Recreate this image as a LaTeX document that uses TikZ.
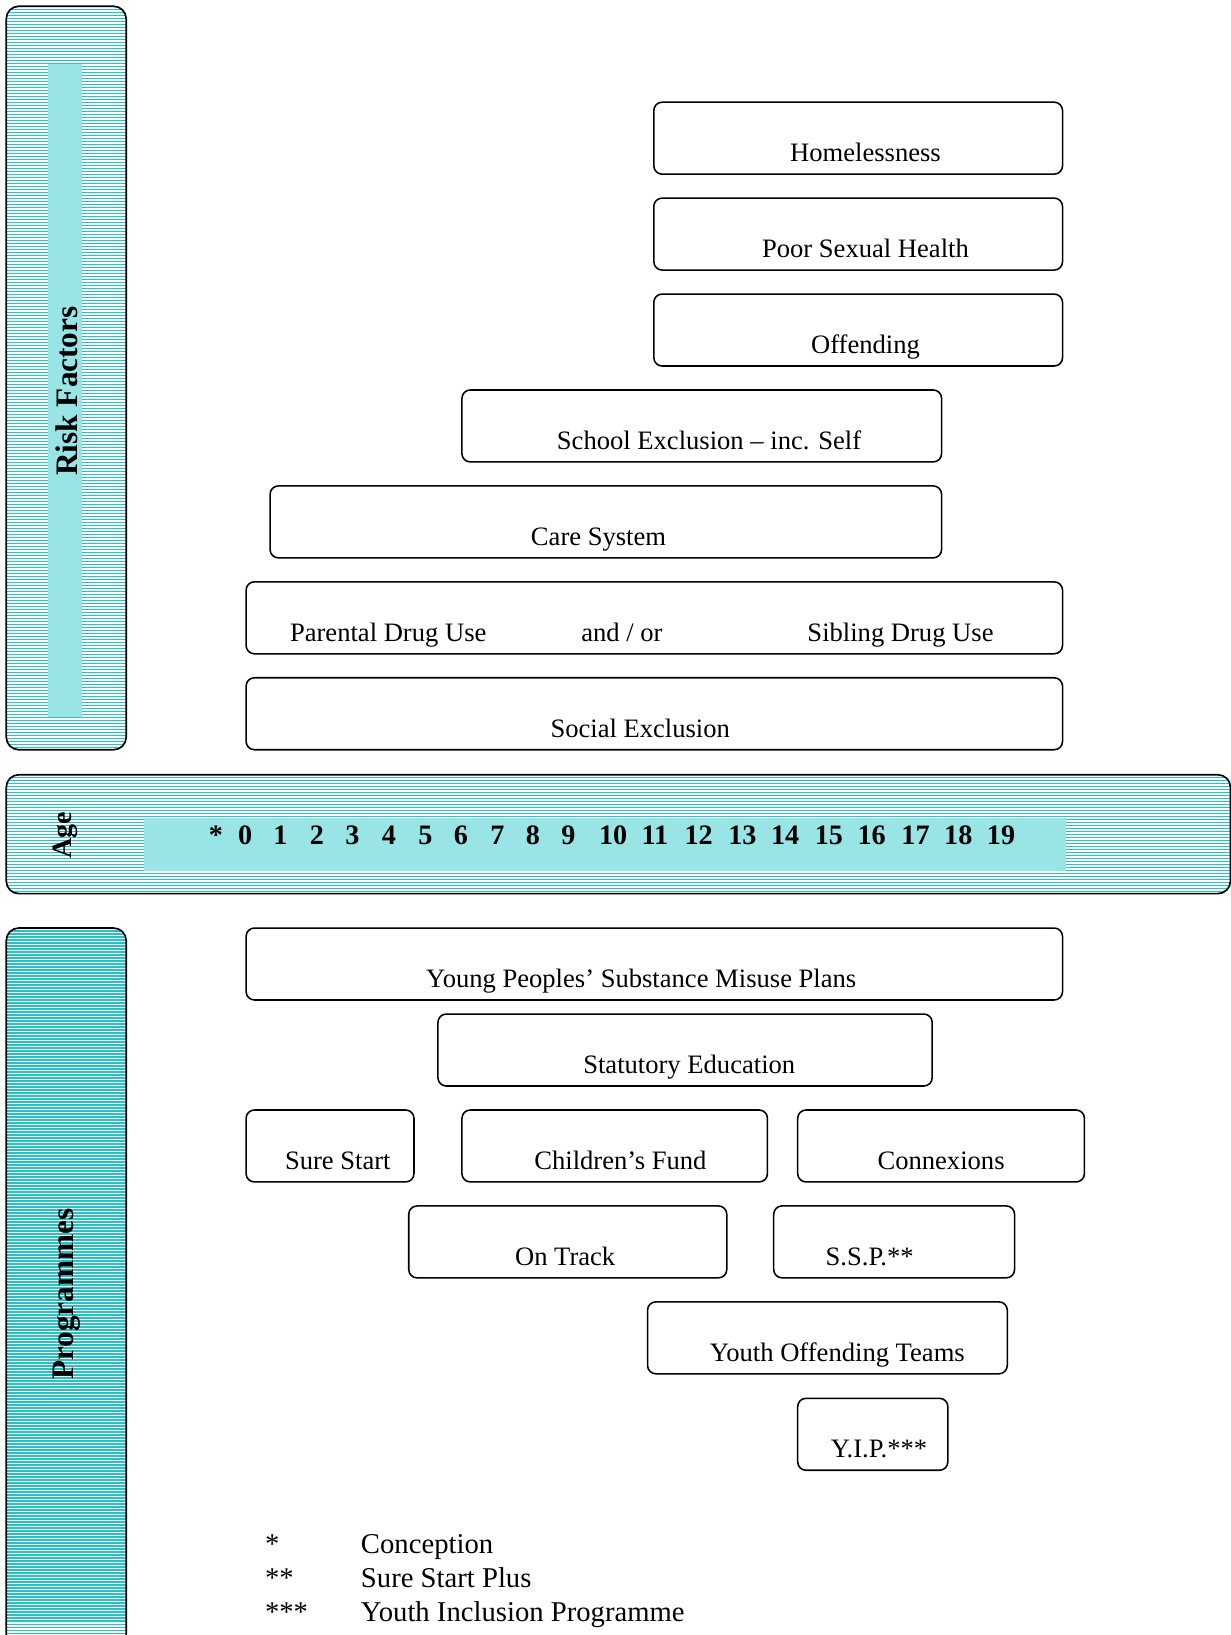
\documentclass[tikz,border=0pt]{standalone}
\usepackage{fontspec}
\setmainfont{Liberation Serif}

\definecolor{stripe}{RGB}{38,194,198}
\definecolor{paleaqua}{RGB}{153,229,229}

\tikzset{
  band/.style={draw, line width=1.6pt, rounded corners=12pt,
    path picture={
      \foreach \yy in {0,2.8777,...,760}
        \draw[stripe, line width=1.35pt] ([yshift=-\yy pt]path picture bounding box.north west) -- ++(1200,0);
    }},
  riskbox/.style={draw, line width=1.5pt, rounded corners=8pt, minimum height=69pt,
    text height=45pt, text depth=0pt, inner sep=0pt, font=\fontsize{25.5}{30}\selectfont},
  bandlabel/.style={rotate=90, font=\fontsize{30}{34}\selectfont\bfseries},
  agenum/.style={anchor=base, inner sep=0pt, font=\fontsize{27}{30}\selectfont\bfseries},
  footnote/.style={anchor=base west, inner sep=0pt, font=\fontsize{27.5}{30}\selectfont}
}

\begin{document}
\begin{tikzpicture}[x=1pt,y=-1pt]
  \useasboundingbox (0,0) rectangle (1180,1568);

  % side and age bands
  \draw[band] (6,6) rectangle (121,719);
  \fill[paleaqua] (46,61) rectangle (79,688);
  \node[bandlabel] (risk) at (64,375) {Risk Factors};

  \draw[band] (6,743) rectangle (1180,857);
  \fill[paleaqua] (138,784) rectangle (1022,835);
  \node[bandlabel, font=\fontsize{27}{30}\selectfont\bfseries] (age) at (63,801) {Age};

  \draw[band] (6,890) rectangle (121,1600);
  \node[bandlabel] (prog) at (64,1241) {Programmes};

  % ages
  \node[agenum] (conc) at (207,810) {*};
  \foreach \xpos [count=\i from 0] in {235,269,304,338,373,408,442,477,511,545,588,628,670,712,753,795,836,878,919,960}
    \node[agenum] (age\i) at (\xpos,810) {\i};

  % risk factors
  \node[riskbox, minimum width=392pt] (homeless) at (823,132.5) {\hspace{14pt}Homelessness};
  \node[riskbox, minimum width=392pt] (sexhealth) at (823,224.5) {\hspace{14pt}Poor Sexual Health};
  \node[riskbox, minimum width=392pt] (offend) at (823,316.5) {\hspace{14pt}Offending};
  \node[riskbox, minimum width=460pt] (schoolex) at (673,408.5) {\hspace{14pt}School Exclusion -- inc. Self};
  \node[riskbox, minimum width=644pt] (care) at (581,500.5) {\hspace{-14pt}Care System};
  \node[riskbox, minimum width=783pt] (drugs) at (627.5,592.5)
    {\hspace{-24pt}Parental Drug Use\hspace{91pt}and / or\hspace{139pt}Sibling Drug Use};
  \node[riskbox, minimum width=783pt] (socialex) at (627.5,684.5) {\hspace{-27pt}Social Exclusion};

  % programmes
  \node[riskbox, minimum width=783pt] (ypsmp) at (627.5,924.5) {\hspace{-25pt}Young Peoples’ Substance Misuse Plans};
  \node[riskbox, minimum width=474pt] (stated) at (657,1007) {\hspace{8pt}Statutory Education};
  \node[riskbox, minimum width=161pt] (surestart) at (316.5,1099) {\hspace{15pt}Sure Start};
  \node[riskbox, minimum width=293pt] (childfund) at (589.5,1099) {\hspace{11pt}Children’s Fund};
  \node[riskbox, minimum width=275pt] (connex) at (902.5,1099) {Connexions};
  \node[riskbox, minimum width=305pt] (ontrack) at (544.5,1191) {\hspace{-5pt}On Track};
  \node[riskbox, minimum width=231pt] (ssp) at (857.5,1191) {\hspace{-47pt}S.S.P.**};
  \node[riskbox, minimum width=345pt] (yot) at (793.5,1283) {\hspace{19pt}Youth Offending Teams};
  \node[riskbox, minimum width=144pt] (yip) at (837,1375.5) {\hspace{12pt}Y.I.P.***};

  % key
  \node[footnote] (k1) at (254,1490) {*};
  \node[footnote] (k1t) at (346,1490) {Conception};
  \node[footnote] (k2) at (254,1522) {**};
  \node[footnote] (k2t) at (346,1522) {Sure Start Plus};
  \node[footnote] (k3) at (254,1555) {***};
  \node[footnote] (k3t) at (346,1555) {Youth Inclusion Programme};
\end{tikzpicture}
\end{document}
